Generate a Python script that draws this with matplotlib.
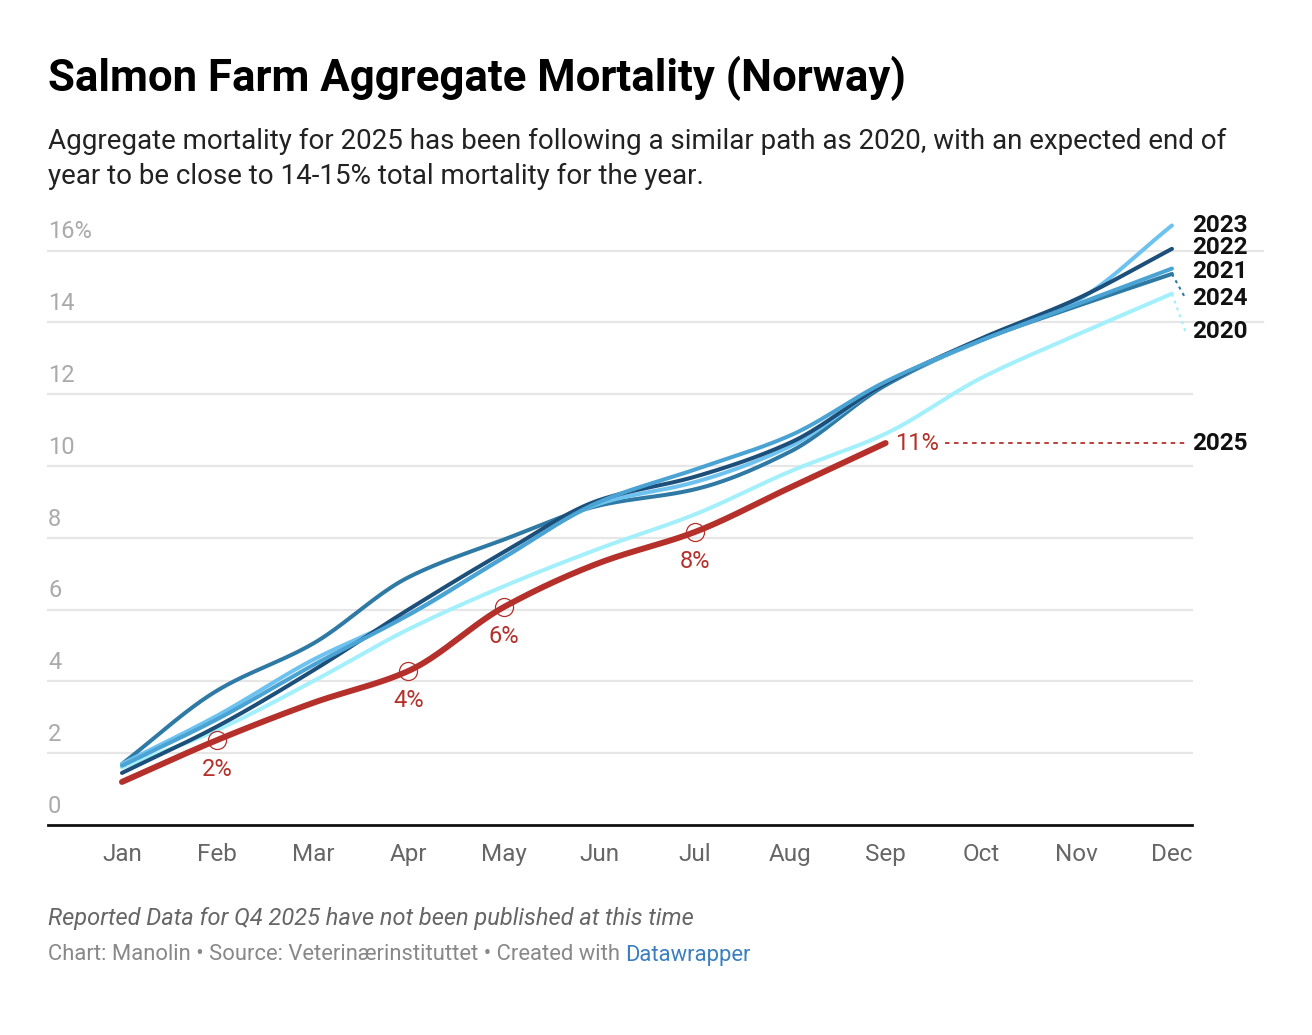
import numpy as np
import matplotlib.pyplot as plt

plt.rcParams['font.family'] = ['Roboto', 'DejaVu Sans']

# 데이터 (누적 폐사율, %)
months = ['Jan', 'Feb', 'Mar', 'Apr', 'May', 'Jun', 'Jul', 'Aug', 'Sep', 'Oct', 'Nov', 'Dec']
y2020 = [1.6, 2.65, 4.0, 5.45, 6.65, 7.7, 8.65, 9.85, 10.9, 12.45, 13.65, 14.8]
y2021 = [1.65, 2.95, 4.45, 5.85, 7.45, 9.0, 9.9, 10.85, 12.35, 13.5, 14.5, 15.5]
y2022 = [1.45, 2.75, 4.3, 6.0, 7.6, 9.05, 9.7, 10.65, 12.3, 13.55, 14.65, 16.05]
y2023 = [1.7, 3.05, 4.6, 5.85, 7.45, 8.95, 9.55, 10.55, 12.3, 13.5, 14.6, 16.7]
y2024 = [1.7, 3.75, 5.05, 6.9, 7.95, 8.9, 9.35, 10.4, 12.25, 13.5, 14.45, 15.35]
y2025 = [1.2, 2.37, 3.4, 4.29, 6.07, 7.3, 8.16, 9.4, 10.64]
marked = [1, 3, 4, 6]  # Feb, Apr, May, Jul

series = [
    ('2020', y2020, '#a3f0fc'),
    ('2024', y2024, '#2f7aa5'),
    ('2023', y2023, '#6ec2f0'),
    ('2022', y2022, '#1d4f7b'),
    ('2021', y2021, '#4aa3d3'),
]
label_y = {'2023': 16.71, '2022': 16.1, '2021': 15.43, '2024': 14.68, '2020': 13.76}


def pchip(x, y, xs):
    x = np.asarray(x, float)
    y = np.asarray(y, float)
    h = np.diff(x)
    d = np.diff(y) / h
    m = np.zeros(len(x))
    m[0], m[-1] = d[0], d[-1]
    for k in range(1, len(x) - 1):
        if d[k - 1] * d[k] > 0:
            w1 = 2 * h[k] + h[k - 1]
            w2 = h[k] + 2 * h[k - 1]
            m[k] = (w1 + w2) / (w1 / d[k - 1] + w2 / d[k])
    idx = np.clip(np.searchsorted(x, xs) - 1, 0, len(x) - 2)
    t = (xs - x[idx]) / h[idx]
    h00 = 2 * t**3 - 3 * t**2 + 1
    h10 = t**3 - 2 * t**2 + t
    h01 = -2 * t**3 + 3 * t**2
    h11 = t**3 - t**2
    return h00 * y[idx] + h10 * h[idx] * m[idx] + h01 * y[idx + 1] + h11 * h[idx] * m[idx + 1]


fig = plt.figure(figsize=(13.12, 10.35), dpi=100)
ax = fig.add_axes([48 / 1312, 1 - 825 / 1035, 1144 / 1312, 625 / 1035])
ax.set_xlim(-0.775, 11.21)
ax.set_ylim(0, 17.41)
for s in ax.spines.values():
    s.set_visible(False)

# 격자선
for v in range(2, 17, 2):
    right = 11.95 if v >= 14 else 11.21
    ax.plot([-0.775, right], [v, v], color='#e6e6e6', lw=1.6, zorder=0, clip_on=False)
ax.plot([-0.775, 11.21], [0, 0], color='#111111', lw=2, zorder=5, clip_on=False)

# y축 눈금 라벨
ytr = ax.get_yaxis_transform()
for v in range(0, 17, 2):
    txt = f'{v}%' if v == 16 else str(v)
    ax.text(0, v + 0.2, txt, transform=ytr, ha='left', va='bottom',
            fontsize=17, color='#aaaaaa')

ax.set_yticks([])
ax.set_xticks(range(12))
ax.set_xticklabels(months)
ax.tick_params(axis='x', length=0, pad=13, labelsize=17.5, labelcolor='#666666')

# 이전 연도 선
xs = np.linspace(0, 11, 400)
for name, vals, col in series:
    ax.plot(xs, pchip(range(12), vals, xs), color=col, lw=2.9,
            solid_capstyle='round', zorder=3)

# 오른쪽 연도 라벨 + 연결선
for name, vals, col in series:
    ly = label_y[name]
    if abs(ly - vals[-1]) > 0.1:
        ax.plot([11, 11.14], [vals[-1], ly], color=col, lw=1.5, ls=(0, (1.5, 2)),
                zorder=2, clip_on=False)
for name, ly in label_y.items():
    ax.text(11.21, ly, name, ha='left', va='center', fontsize=17.5,
            fontweight='bold', color='#111111', clip_on=False)

# 2025 선
red = '#b5302a'
x25 = np.linspace(0, len(y2025) - 1, 300)
ax.plot(x25, pchip(range(len(y2025)), y2025, x25), color=red, lw=4.3,
        solid_capstyle='round', zorder=4)
for i in marked:
    ax.plot(i, y2025[i], 'o', ms=13, mfc='none', mec=red, mew=0.9, zorder=6)
    ax.annotate(f'{round(y2025[i])}%', (i, y2025[i]), xytext=(0, -21),
                textcoords='offset points', ha='center', va='center',
                fontsize=17, color=red)
last = len(y2025) - 1
ax.annotate(f'{round(y2025[last])}%', (last, y2025[last]), xytext=(7, 0),
            textcoords='offset points', ha='left', va='center',
            fontsize=17, color=red)
ax.plot([last + 0.62, 11.14], [y2025[last]] * 2, color=red, lw=1.3,
        ls=(0, (2.5, 2.5)), zorder=2, clip_on=False)
ax.text(11.21, y2025[last], '2025', ha='left', va='center', fontsize=17.5,
        fontweight='bold', color='#111111')

# 제목과 설명
fig.text(48 / 1312, 1 - 78 / 1035, 'Salmon Farm Aggregate Mortality (Norway)',
         fontsize=31.5, fontweight='bold', color='#000000', ha='left', va='center')
fig.text(48 / 1312, 1 - 141 / 1035,
         'Aggregate mortality for 2025 has been following a similar path as 2020, with an expected end of',
         fontsize=20, color='#222222', ha='left', va='center')
fig.text(48 / 1312, 1 - 176 / 1035,
         'year to be close to 14-15% total mortality for the year.',
         fontsize=20, color='#222222', ha='left', va='center')

# 하단 주석
fig.text(48 / 1312, 1 - 918 / 1035,
         'Reported Data for Q4 2025 have not been published at this time',
         fontsize=17, style='italic', color='#666666', ha='left', va='center')
foot = fig.text(48 / 1312, 1 - 955 / 1035,
                'Chart: Manolin \u2022 Source: Veterin\u00e6rinstituttet \u2022 Created with ',
                fontsize=15.8, color='#888888', ha='left', va='center')
fig.canvas.draw()
bb = foot.get_window_extent()
fig.text(bb.x1 / fig.bbox.width, 1 - 955 / 1035, 'Datawrapper',
         fontsize=15.8, color='#3a7fc1', ha='left', va='center')

plt.savefig('out.png', dpi=100)
